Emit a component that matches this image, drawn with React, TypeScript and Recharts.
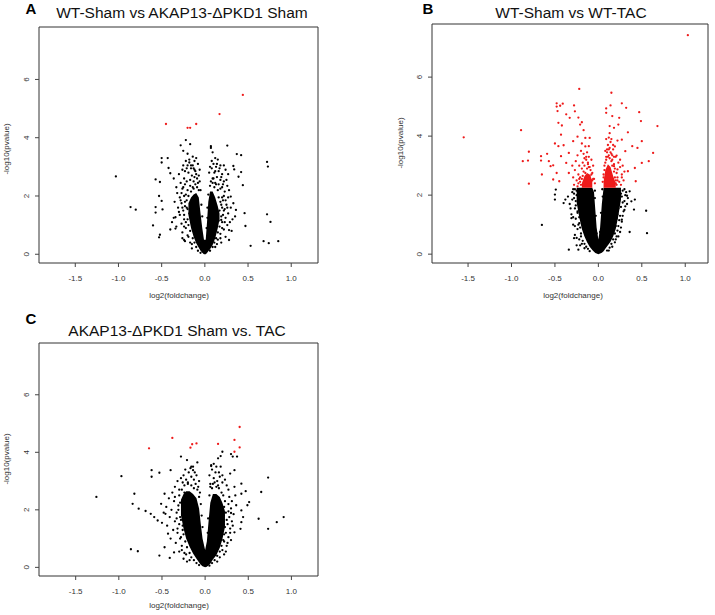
import React from "react"
import { ComposedChart, Area, Scatter, XAxis, YAxis, ReferenceArea } from "recharts"

// x ticks / y ticks shared by the three volcano plots
const X_TICKS = [-1.5, -1.0, -0.5, 0.0, 0.5, 1.0]
const Y_TICKS = [0, 2, 4, 6]

const BLACK = "#000000"
const RED = "#ee1a1a"
const FONT = "'Liberation Sans', Arial, sans-serif"

// ---- panel A : WT-Sham vs AKAP13-dPKD1 Sham ----
// solid core of the volcano, [x, low, high]
const coreA = [
  [-0.19, 1.35, 1.75], [-0.16, 0.9, 1.95], [-0.13, 0.6, 2.05], [-0.1, 0.38, 2.1], [-0.07, 0.22, 1.95],
  [-0.05, 0.12, 1.4], [-0.03, 0.05, 0.9], [-0.01, 0.0, 0.5], [0.01, 0.0, 0.5], [0.025, 0.04, 1.1],
  [0.04, 0.1, 1.8], [0.06, 0.17, 2.15], [0.09, 0.32, 2.15], [0.12, 0.55, 1.95], [0.15, 0.9, 1.65],
  [0.17, 1.2, 1.4],
]
const redBandA: number[][] = []
const blackA = [
  [-1.03, 2.67], [-0.86, 1.62], [-0.8, 1.53], [-0.6, 0.99], [-0.52, 0.67], [-0.53, 0.58],
  [-0.57, 2.57], [-0.52, 2.48], [-0.57, 1.62], [-0.57, 1.43], [-0.53, 2.0], [-0.5, 1.83], [-0.49, 1.54],
  [-0.5, 3.3], [-0.5, 3.15], [-0.43, 3.3], [-0.42, 2.96], [-0.4, 2.78], [-0.36, 2.6],
  [-0.34, 1.27], [-0.34, 0.88], [-0.26, 0.55], [-0.24, 0.49], [-0.28, 3.74], [-0.22, 3.92], [-0.17, 3.78],
  [0.07, 3.71], [0.26, 3.73], [0.37, 3.44], [0.42, 3.4], [0.33, 3.03], [0.42, 2.82], [0.34, 2.91], [0.39, 2.66],
  [0.72, 3.17], [0.73, 3.01], [0.44, 2.37], [0.46, 1.41], [0.47, 0.97], [0.72, 1.37], [0.76, 1.11],
  [0.68, 0.45], [0.74, 0.38], [0.85, 0.45], [0.53, 0.29], [0.3, 1.98], [0.33, 1.75], [0.36, 1.52],
  [0.28, 0.83], [0.28, 0.49], [0.19, 1.18],
  [-0.25, 3.55], [-0.2, 3.45], [-0.14, 3.35], [-0.12, 3.2], [-0.1, 3.3], [-0.22, 3.2], [-0.18, 3.15],
  [-0.16, 3.05], [-0.13, 2.95], [-0.11, 2.85], [-0.21, 2.95], [-0.26, 2.9], [-0.3, 2.75], [-0.19, 2.8],
  [-0.15, 2.7], [-0.12, 2.65], [-0.24, 2.6], [-0.17, 2.55], [-0.09, 2.6], [-0.28, 2.45], [-0.21, 2.5],
  [-0.13, 2.5], [-0.08, 2.45], [-0.33, 2.3], [-0.26, 2.25], [-0.23, 2.4],
  [-0.32, 2.1], [-0.29, 1.95], [-0.35, 1.8], [-0.27, 1.75], [-0.31, 1.6], [-0.25, 1.5], [-0.29, 1.35],
  [-0.36, 1.25], [-0.24, 1.2], [-0.27, 1.05], [-0.33, 0.95], [-0.22, 0.9], [-0.26, 0.75], [-0.2, 0.65],
  [-0.23, 0.45], [-0.17, 0.4], [-0.15, 0.2], [-0.3, 1.45], [-0.38, 1.1], [-0.4, 0.85], [-0.24, 2.0],
  [-0.23, 1.8], [-0.21, 1.6],
  [0.07, 3.65], [0.09, 3.5], [0.12, 3.3], [0.15, 3.25], [0.1, 3.1], [0.13, 3.0], [0.18, 3.05], [0.22, 3.05],
  [0.08, 2.95], [0.16, 2.85], [0.11, 2.8], [0.2, 2.75], [0.24, 2.9], [0.14, 2.65], [0.09, 2.6], [0.18, 2.55],
  [0.22, 2.5], [0.12, 2.45], [0.26, 2.35], [0.16, 2.4], [0.2, 2.3],
  [0.23, 2.15], [0.27, 1.95], [0.21, 1.85], [0.25, 1.7], [0.3, 1.6], [0.22, 1.5], [0.27, 1.4], [0.24, 1.25],
  [0.32, 1.2], [0.2, 1.1], [0.26, 1.0], [0.22, 0.85], [0.18, 0.7], [0.24, 0.6], [0.15, 0.5], [0.19, 0.4],
  [0.12, 0.25], [0.29, 1.1], [0.35, 1.3], [0.31, 0.8], [0.2, 1.95], [0.19, 1.7],
  // speckles around the solid core
  [-0.06, 2.9], [-0.08, 3.1], [-0.07, 2.7], [-0.1, 2.75], [-0.12, 2.9], [-0.14, 3.05], [-0.16, 2.95],
  [-0.18, 3.25], [-0.2, 3.05], [-0.23, 2.85], [-0.25, 3.05], [-0.11, 2.4], [-0.14, 2.3], [-0.17, 2.35],
  [-0.2, 2.2], [-0.22, 2.05], [-0.19, 2.0], [-0.16, 2.15], [-0.13, 2.25], [-0.09, 2.3], [-0.07, 2.2],
  [-0.21, 1.85], [-0.23, 1.65], [-0.2, 1.55], [-0.18, 1.4], [-0.2, 1.2], [-0.19, 1.0], [-0.17, 0.8],
  [-0.14, 0.55], [-0.12, 0.4], [-0.1, 0.25], [-0.08, 0.12], [-0.05, 0.05], [-0.25, 2.3], [-0.27, 2.1],
  [-0.28, 1.85], [-0.26, 1.6], [-0.24, 1.35], [-0.22, 1.1], [-0.24, 0.95], [-0.19, 0.6], [-0.15, 0.35],
  [-0.06, 2.5], [-0.05, 2.2], [-0.04, 1.7], [-0.03, 1.3],
  [0.05, 2.8], [0.06, 3.0], [0.08, 3.2], [0.07, 2.5], [0.1, 2.6], [0.12, 2.85], [0.14, 3.1], [0.17, 2.95],
  [0.19, 2.65], [0.21, 2.4], [0.18, 2.25], [0.15, 2.2], [0.13, 2.4], [0.11, 2.3], [0.09, 2.45], [0.06, 2.35],
  [0.04, 2.05], [0.03, 1.6], [0.16, 1.95], [0.18, 1.8], [0.2, 1.6], [0.17, 1.5], [0.19, 1.3], [0.16, 1.15],
  [0.17, 0.95], [0.15, 0.75], [0.13, 0.55], [0.11, 0.4], [0.09, 0.25], [0.06, 0.12], [0.22, 2.0],
  [0.24, 1.85], [0.23, 1.55], [0.21, 1.35], [0.23, 1.1], [0.2, 0.9], [0.18, 0.55], [0.14, 0.35],
  [0.26, 1.6], [0.28, 2.2], [0.25, 2.55], [0.27, 2.75], [0.02, 0.9], [0.03, 1.25],
]
const redA = [[0.44, 5.47], [0.17, 4.81], [-0.45, 4.47], [-0.1, 4.47], [-0.2, 4.34], [-0.17, 4.34]]

// ---- panel B : WT-Sham vs WT-TAC ----
const coreB = [
  [-0.25, 1.75, 2.25], [-0.22, 1.25, 2.25], [-0.19, 0.85, 2.25], [-0.16, 0.6, 2.25], [-0.13, 0.4, 2.25],
  [-0.1, 0.25, 2.25], [-0.07, 0.14, 2.25], [-0.05, 0.08, 2.1], [-0.035, 0.04, 1.5], [-0.02, 0.02, 0.9],
  [0.0, 0.0, 0.5], [0.02, 0.02, 0.9], [0.04, 0.05, 1.7], [0.06, 0.1, 2.25], [0.08, 0.18, 2.25],
  [0.11, 0.3, 2.25], [0.14, 0.42, 2.25], [0.17, 0.6, 2.25], [0.2, 0.85, 2.25], [0.23, 1.3, 2.25],
  [0.26, 1.85, 2.25],
]
const redBandB = [
  [-0.19, 2.25, 2.4], [-0.16, 2.25, 2.65], [-0.13, 2.25, 2.75], [-0.1, 2.25, 2.7], [-0.07, 2.25, 2.5],
  [0.06, 2.25, 2.45], [0.08, 2.25, 2.85], [0.11, 2.25, 3.05], [0.14, 2.25, 2.95], [0.17, 2.25, 2.65],
  [0.2, 2.25, 2.4],
]
const blackB = [
  [-0.65, 0.99], [-0.5, 1.85], [-0.5, 2.02], [-0.49, 2.19], [-0.4, 1.73], [-0.38, 1.85], [-0.31, 1.22],
  [-0.28, 0.54], [-0.23, 0.15], [-0.34, 0.15], [0.55, 1.47], [0.56, 0.71], [0.36, 0.75], [0.38, 1.79],
  [0.42, 1.85], [0.41, 1.51], [0.27, 1.17], [0.31, 1.62], [0.24, 2.07], [0.33, 1.98], [0.36, 2.13],
  [-0.3, 2.1], [-0.28, 1.9], [-0.33, 1.7], [-0.27, 1.55], [-0.31, 1.35], [-0.26, 1.2], [-0.29, 1.0],
  [-0.24, 0.85], [-0.27, 0.65], [-0.22, 0.5], [-0.19, 0.35], [-0.25, 0.3], [-0.16, 0.2], [-0.35, 1.95],
  [-0.26, 1.8], [-0.24, 1.45], [-0.22, 1.05], [-0.2, 0.7], [-0.29, 2.2], [-0.25, 2.15],
  [0.28, 2.15], [0.31, 2.0], [0.27, 1.95], [0.3, 1.8], [0.26, 1.6], [0.29, 1.45], [0.25, 1.3], [0.27, 1.1],
  [0.23, 0.95], [0.25, 0.75], [0.21, 0.6], [0.19, 0.4], [0.16, 0.25], [0.12, 0.12], [0.33, 1.7], [0.22, 0.8],
  [0.24, 1.15], [0.3, 2.2], [0.26, 2.05], [0.2, 0.5],
  // speckles around the solid core
  [-0.27, 2.2], [-0.25, 2.0], [-0.23, 1.85], [-0.26, 1.65], [-0.24, 1.4], [-0.22, 1.25], [-0.23, 1.0],
  [-0.21, 0.9], [-0.2, 0.6], [-0.18, 0.45], [-0.16, 0.35], [-0.14, 0.25], [-0.12, 0.18], [-0.1, 0.1],
  [-0.22, 2.15], [-0.2, 1.95], [-0.28, 2.05], [-0.3, 1.85], [-0.32, 1.55], [-0.29, 1.25], [-0.27, 0.95],
  [-0.25, 0.55], [-0.21, 0.3], [-0.04, 1.9], [-0.04, 2.15], [-0.03, 1.3], [-0.02, 0.7],
  [0.22, 2.15], [0.25, 2.0], [0.24, 1.8], [0.23, 1.55], [0.22, 1.35], [0.21, 1.2], [0.2, 0.95], [0.19, 0.7],
  [0.17, 0.5], [0.15, 0.35], [0.13, 0.22], [0.1, 0.12], [0.28, 1.75], [0.3, 1.5], [0.28, 1.3], [0.26, 0.9],
  [0.23, 0.6], [0.32, 2.1], [0.34, 1.9], [0.05, 1.95], [0.045, 2.2], [0.03, 1.4], [0.02, 0.75],
]
const redB = [
  [1.03, 7.42], [-1.55, 3.96], [-0.89, 4.2], [-0.8, 3.47], [-0.87, 3.15], [-0.81, 3.17], [-0.8, 2.39],
  [-0.66, 3.32], [-0.66, 3.17], [-0.59, 3.4], [-0.57, 3.15], [-0.55, 2.98], [-0.52, 3.01], [-0.65, 2.7],
  [-0.52, 2.53], [-0.5, 3.75], [-0.46, 3.66], [-0.43, 3.32], [-0.4, 3.69], [-0.37, 3.09], [-0.34, 3.43],
  [-0.34, 2.75], [-0.48, 2.75], [-0.45, 2.47], [-0.48, 5.11], [-0.44, 5.03], [-0.41, 5.1], [-0.48, 5.0],
  [-0.47, 4.85], [-0.46, 4.45], [-0.42, 4.36], [-0.43, 4.05], [-0.37, 4.74], [-0.33, 4.62], [-0.28, 5.04],
  [-0.27, 4.84], [-0.23, 4.63], [-0.22, 5.6], [-0.21, 4.39], [-0.19, 4.47], [-0.17, 4.2], [-0.24, 3.98],
  [-0.29, 3.83], [-0.15, 3.94], [-0.1, 3.94], [-0.11, 3.66],
  [0.09, 4.94], [0.09, 4.79], [0.15, 5.47], [0.14, 5.04], [0.27, 5.11], [0.16, 4.68], [0.13, 4.34],
  [0.18, 4.28], [0.23, 4.39], [0.24, 4.62], [0.32, 4.96], [0.47, 4.81], [0.49, 4.51], [0.68, 4.34],
  [0.5, 3.83], [0.39, 3.66], [0.34, 4.13], [0.27, 3.88], [0.31, 3.49], [0.45, 3.6], [0.63, 3.43],
  [0.58, 3.15], [0.5, 3.09], [0.42, 2.92], [0.34, 2.81], [0.27, 2.7], [0.43, 2.47], [0.21, 3.34],
  [0.25, 3.2], [0.18, 2.98], [0.22, 2.87],
  [-0.28, 2.35], [-0.25, 2.5], [-0.23, 2.7], [-0.21, 2.45], [-0.19, 2.9], [-0.18, 3.1], [-0.16, 3.0],
  [-0.14, 3.2], [-0.12, 3.05], [-0.1, 2.95], [-0.09, 2.85], [-0.07, 2.75], [-0.05, 2.55], [-0.22, 3.0],
  [-0.26, 3.15], [-0.29, 2.6], [-0.24, 3.35], [-0.2, 3.5], [-0.17, 3.4], [-0.13, 3.45], [-0.11, 3.3],
  [-0.08, 3.2], [-0.06, 3.0], [-0.3, 3.0], [-0.27, 2.85], [-0.15, 3.65], [-0.19, 3.75], [-0.24, 2.3],
  [-0.21, 2.6], [-0.04, 2.4],
  [0.06, 2.7], [0.07, 3.0], [0.09, 3.3], [0.1, 3.45], [0.12, 3.35], [0.13, 3.6], [0.15, 3.4], [0.16, 3.2],
  [0.18, 3.05], [0.19, 2.9], [0.21, 2.75], [0.22, 2.6], [0.24, 2.45], [0.26, 2.35], [0.23, 3.1],
  [0.25, 2.95], [0.27, 2.6], [0.29, 2.5], [0.2, 3.3], [0.17, 3.55], [0.14, 3.8], [0.11, 3.7], [0.08, 3.5],
  [0.12, 3.95], [0.19, 3.65], [0.22, 3.85], [0.28, 3.0], [0.3, 2.8], [0.05, 2.45], [0.2, 2.4],
  // speckles in the red clumps
  [-0.2, 2.35], [-0.19, 2.55], [-0.17, 2.8], [-0.15, 2.75], [-0.13, 2.9], [-0.11, 2.95], [-0.1, 2.65],
  [-0.08, 2.7], [-0.07, 2.5], [-0.06, 2.55], [-0.12, 3.1], [-0.14, 3.3], [-0.16, 3.25], [-0.22, 2.55],
  [-0.23, 2.4], [-0.18, 2.65],
  [0.06, 2.6], [0.07, 2.85], [0.08, 3.1], [0.09, 3.2], [0.11, 3.3], [0.13, 3.25], [0.15, 3.15], [0.16, 3.0],
  [0.18, 2.8], [0.19, 2.6], [0.2, 2.5], [0.21, 2.35], [0.22, 2.5], [0.1, 3.55], [0.12, 3.55], [0.14, 3.45],
  [0.16, 3.35], [0.18, 3.3], [0.17, 3.7], [0.15, 3.9], [0.09, 3.9], [0.13, 4.1],
]

// ---- panel C : AKAP13-dPKD1 Sham vs. TAC ----
const coreC = [
  [-0.28, 1.8, 2.35], [-0.25, 1.35, 2.55], [-0.22, 1.0, 2.65], [-0.18, 0.72, 2.65], [-0.14, 0.48, 2.55],
  [-0.1, 0.3, 2.4], [-0.07, 0.17, 2.05], [-0.05, 0.09, 1.5], [-0.03, 0.04, 1.0], [0.0, 0.0, 0.6],
  [0.02, 0.02, 0.9], [0.04, 0.07, 1.6], [0.06, 0.13, 2.25], [0.09, 0.27, 2.55], [0.13, 0.42, 2.55],
  [0.17, 0.68, 2.45], [0.2, 0.98, 2.25], [0.23, 1.4, 1.95],
]
const redBandC: number[][] = []
const blackC = [
  [-1.26, 2.45], [-0.97, 3.17], [-0.82, 2.56], [-0.84, 2.21], [-0.77, 2.04], [-0.86, 0.63], [-0.78, 0.56],
  [-0.69, 1.96], [-0.62, 3.38], [-0.62, 3.15], [-0.53, 3.29], [-0.63, 1.86], [-0.59, 1.75], [-0.55, 1.63],
  [-0.51, 2.21], [-0.47, 2.56], [-0.46, 1.86], [-0.43, 1.17], [-0.47, 0.7], [-0.53, 0.41], [-0.41, 0.33],
  [-0.36, 0.52], [-0.4, 3.38], [-0.28, 3.85], [-0.21, 3.73], [-0.09, 3.65], [-0.16, 3.5], [-0.14, 3.38],
  [0.07, 3.52], [0.15, 3.79], [0.18, 3.87], [0.2, 4.02], [0.3, 3.94], [0.32, 3.85], [0.37, 3.85],
  [0.42, 2.91], [0.42, 2.56], [0.47, 2.65], [0.51, 2.27], [0.49, 2.16], [0.42, 1.98], [0.44, 1.75],
  [0.42, 1.57], [0.41, 1.34], [0.34, 1.22], [0.65, 2.62], [0.73, 3.12], [0.62, 1.69], [0.73, 1.34],
  [0.83, 1.57], [0.91, 1.75], [0.36, 2.16], [0.3, 1.89], [0.34, 2.8], [0.34, 3.38], [0.29, 3.26],
  [-0.32, 3.0], [-0.28, 3.1], [-0.25, 3.2], [-0.22, 3.05], [-0.19, 3.3], [-0.16, 3.15], [-0.13, 3.05],
  [-0.11, 2.9], [-0.08, 2.8], [-0.2, 2.95], [-0.26, 2.95], [-0.35, 2.8], [-0.3, 2.7], [-0.17, 3.45],
  [-0.12, 3.3], [-0.06, 2.6], [-0.23, 3.4],
  [-0.38, 2.6], [-0.42, 2.4], [-0.36, 2.3], [-0.45, 2.1], [-0.39, 2.0], [-0.33, 1.9], [-0.41, 1.75],
  [-0.35, 1.6], [-0.3, 1.5], [-0.44, 1.45], [-0.37, 1.3], [-0.32, 1.2], [-0.28, 1.05], [-0.4, 1.0],
  [-0.34, 0.85], [-0.27, 0.75], [-0.3, 0.55], [-0.22, 0.45], [-0.25, 0.3], [-0.18, 0.25], [-0.48, 1.9],
  [-0.5, 1.55], [-0.35, 2.45], [-0.31, 2.15], [-0.29, 1.75], [-0.26, 1.3],
  [0.05, 3.2], [0.08, 3.4], [0.1, 3.1], [0.12, 3.3], [0.14, 3.0], [0.17, 3.15], [0.2, 2.95], [0.23, 3.05],
  [0.25, 2.85], [0.15, 2.85], [0.09, 2.9], [0.27, 2.7], [0.18, 3.5], [0.06, 2.8],
  [0.28, 2.45], [0.31, 2.3], [0.27, 2.2], [0.3, 2.05], [0.33, 1.85], [0.28, 1.75], [0.31, 1.6], [0.26, 1.5],
  [0.29, 1.35], [0.24, 1.2], [0.27, 1.05], [0.22, 0.9], [0.25, 0.75], [0.2, 0.6], [0.22, 0.45], [0.17, 0.35],
  [0.14, 0.2], [0.35, 2.5], [0.32, 1.45], [0.3, 0.95],
  // speckles around the solid core
  [-0.3, 2.5], [-0.27, 2.7], [-0.24, 2.85], [-0.2, 2.9], [-0.16, 2.85], [-0.13, 2.75], [-0.09, 2.7],
  [-0.07, 2.45], [-0.05, 2.2], [-0.04, 1.8], [-0.03, 1.4], [-0.29, 2.25], [-0.31, 2.0], [-0.28, 1.65],
  [-0.26, 1.45], [-0.25, 1.15], [-0.23, 0.9], [-0.21, 0.7], [-0.18, 0.5], [-0.16, 0.35], [-0.13, 0.25],
  [-0.1, 0.15], [-0.07, 0.08], [-0.33, 1.7], [-0.32, 1.35], [-0.29, 1.0], [-0.27, 0.6], [-0.24, 0.5],
  [-0.21, 0.2], [-0.14, 3.5], [-0.1, 3.2], [-0.07, 3.0], [-0.24, 2.6],
  [0.05, 2.5], [0.06, 2.9], [0.08, 2.75], [0.11, 2.95], [0.13, 2.8], [0.16, 2.75], [0.19, 2.6], [0.21, 2.5],
  [0.23, 2.3], [0.22, 2.1], [0.24, 1.9], [0.25, 1.65], [0.23, 1.4], [0.22, 1.15], [0.21, 0.95], [0.19, 0.75],
  [0.17, 0.55], [0.14, 0.4], [0.11, 0.25], [0.08, 0.15], [0.05, 0.06], [0.27, 1.95], [0.29, 1.2],
  [0.26, 0.85], [0.24, 0.55], [0.03, 1.2], [0.035, 1.7], [0.1, 3.6], [0.13, 3.5], [0.16, 3.3], [0.07, 3.55],
  [0.2, 3.2],
]
const redC = [
  [-0.65, 4.14], [-0.38, 4.5], [-0.17, 4.16], [-0.15, 4.28], [-0.1, 4.31], [0.15, 4.29], [0.34, 4.43],
  [0.4, 4.88], [0.34, 4.02], [0.4, 4.17],
]

// merge band arrays into one table for the chart (x values of the red band are a subset of the core ones)
function bandTable(core: number[][], red: number[][]) {
  return core.map(([x, lo, hi]) => {
    const r = red.find((d) => d[0] === x)
    return { x, core: [lo, hi], red: r ? [r[1], r[2]] : null }
  })
}
const toPts = (arr: number[][]) => arr.map(([x, y]) => ({ x, y }))

const dot = (color: string) => (p: any) =>
  p.cx == null ? <g /> : <circle cx={p.cx} cy={p.cy} r={1.15} fill={color} />

const XTick = (p: any) => (
  <text x={p.x} y={p.y} dy={12} textAnchor="middle" fontSize={8} fill="#333" fontFamily={FONT}>
    {Number(p.payload.value).toFixed(1)}
  </text>
)

type PanelProps = {
  left: number
  top: number
  width: number
  height: number
  mTop: number
  xDomain: number[]
  core: number[][]
  redBand: number[][]
  black: number[][]
  red: number[][]
}

function Volcano({ left, top, width, height, mTop, xDomain, core, redBand, black, red }: PanelProps) {
  const table = bandTable(core, redBand)
  return (
    <div style={{ position: "absolute", left, top }}>
      <ComposedChart width={width} height={height} data={table} margin={{ top: mTop, right: 5, bottom: 0, left: 19 }}>
        <XAxis
          dataKey="x"
          type="number"
          domain={xDomain}
          allowDataOverflow
          ticks={X_TICKS}
          tick={<XTick />}
          tickSize={4}
          axisLine={false}
          tickLine={{ stroke: "#444" }}
          height={20}
        />
        <YAxis
          dataKey="y"
          type="number"
          domain={[-0.3, 7.8]}
          allowDataOverflow
          ticks={Y_TICKS}
          tick={{ angle: -90, textAnchor: "middle", fontSize: 8, fill: "#333", fontFamily: FONT }}
          tickSize={4}
          tickMargin={9}
          axisLine={false}
          tickLine={{ stroke: "#444" }}
          width={20}
        />
        <Area dataKey="core" type="linear" stroke="none" fill={BLACK} fillOpacity={1} isAnimationActive={false} />
        {redBand.length > 0 && (
          <Area dataKey="red" type="linear" stroke="none" fill={RED} fillOpacity={1} isAnimationActive={false} />
        )}
        <Scatter data={toPts(black)} shape={dot(BLACK)} isAnimationActive={false} />
        <Scatter data={toPts(red)} shape={dot(RED)} isAnimationActive={false} />
        <ReferenceArea
          x1={xDomain[0]}
          x2={xDomain[1]}
          y1={-0.3}
          y2={7.8}
          stroke="#333"
          strokeWidth={1}
          fill="none"
          fillOpacity={0}
        />
      </ComposedChart>
    </div>
  )
}

const textStyle: React.CSSProperties = { position: "absolute", whiteSpace: "nowrap", fontFamily: FONT, lineHeight: 1 }

function Centered({ x, y, size, children, bold, color }: any) {
  return (
    <div style={{ ...textStyle, left: x, top: y, fontSize: size, fontWeight: bold ? 700 : 400, color: color ?? "#111", transform: "translateX(-50%)" }}>
      {children}
    </div>
  )
}
function Vertical({ x, y, children }: any) {
  return (
    <div style={{ ...textStyle, left: x, top: y, fontSize: 8, color: "#333", transform: "translate(-50%, -50%) rotate(-90deg)" }}>
      {children}
    </div>
  )
}

export default function App() {
  return (
    <div style={{ position: "absolute", left: 0, top: 0, width: 715, height: 615, background: "#fff", overflow: "hidden" }}>
      <Volcano left={0} top={0} width={323} height={283} mTop={27} xDomain={[-1.92, 1.31]} core={coreA} redBand={redBandA} black={blackA} red={redA} />
      <Volcano left={393} top={0} width={320} height={283} mTop={24} xDomain={[-1.915, 1.262]} core={coreB} redBand={redBandB} black={blackB} red={redB} />
      <Volcano left={0} top={316} width={323} height={280} mTop={27} xDomain={[-1.925, 1.308]} core={coreC} redBand={redBandC} black={blackC} red={redC} />

      <Centered x={31} y={1} size={15} bold color="#000">A</Centered>
      <Centered x={182} y={5} size={15.5}>WT-Sham vs AKAP13-ΔPKD1 Sham</Centered>
      <Centered x={428} y={1} size={15} bold color="#000">B</Centered>
      <Centered x={571} y={5} size={15.5}>WT-Sham vs WT-TAC</Centered>
      <Centered x={31} y={311} size={15} bold color="#000">C</Centered>
      <Centered x={177} y={323} size={15.5}>AKAP13-ΔPKD1 Sham vs. TAC</Centered>

      <Centered x={179} y={292} size={8} color="#333">log2(foldchange)</Centered>
      <Centered x={573} y={292} size={8} color="#333">log2(foldchange)</Centered>
      <Centered x={179} y={602} size={8} color="#333">log2(foldchange)</Centered>

      <Vertical x={7} y={149}>-log10(pvalue)</Vertical>
      <Vertical x={401} y={143}>-log10(pvalue)</Vertical>
      <Vertical x={7} y={459}>-log10(pvalue)</Vertical>
    </div>
  )
}
